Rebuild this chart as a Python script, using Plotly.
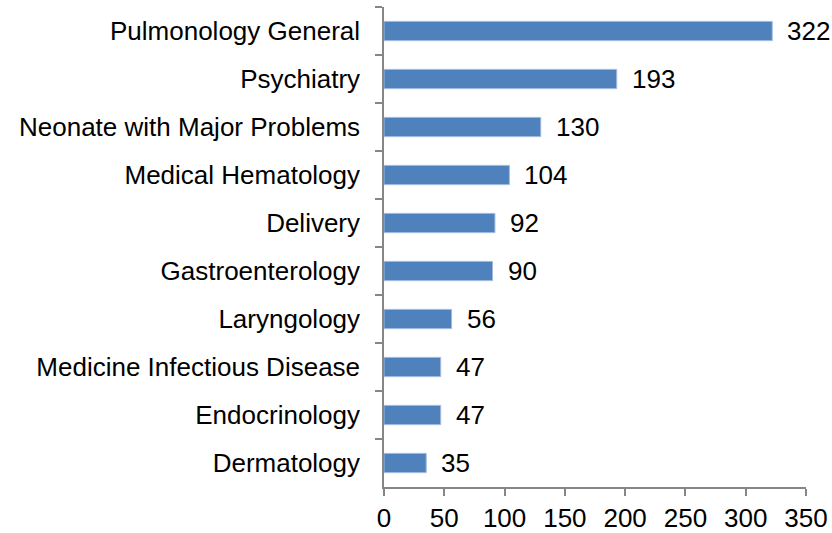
import plotly.graph_objects as go

categories = [
    "Pulmonology General",
    "Psychiatry",
    "Neonate with Major Problems",
    "Medical Hematology",
    "Delivery",
    "Gastroenterology",
    "Laryngology",
    "Medicine Infectious Disease",
    "Endocrinology",
    "Dermatology",
]
values = [322, 193, 130, 104, 92, 90, 56, 47, 47, 35]
x_ticks = [0, 50, 100, 150, 200, 250, 300, 350]

FONT = "Liberation Sans, Arial, sans-serif"
AXIS = "#868686"
FS = 26

fig = go.Figure()
fig.add_trace(go.Bar(
    x=values,
    y=categories,
    orientation="h",
    marker=dict(color="#4F81BD", line=dict(color="#9EB9DD", width=1)),
    hoverinfo="x+y",
))

for c, v in zip(categories, values):
    fig.add_annotation(
        x=v, y=c, text=str(v), showarrow=False,
        xanchor="left", yanchor="middle", xshift=13,
        font=dict(family=FONT, size=FS, color="#000000"),
    )

fig.update_layout(
    width=832, height=533,
    margin=dict(l=384, r=26, t=7, b=46, autoexpand=False),
    paper_bgcolor="white", plot_bgcolor="white",
    showlegend=False,
    bargap=0.6,
    font=dict(family=FONT, size=FS, color="#000000"),
)
fig.update_xaxes(
    range=[0, 350], tickvals=x_ticks, ticktext=[str(t) for t in x_ticks],
    showgrid=False, zeroline=False, automargin=False,
    showline=True, linecolor=AXIS, linewidth=1.5,
    ticks="outside", ticklen=7, tickcolor=AXIS, tickwidth=1.5,
    ticklabelstandoff=0,
    tickfont=dict(family=FONT, size=FS, color="#000000"),
)
fig.update_yaxes(
    categoryorder="array", categoryarray=categories, autorange="reversed",
    showgrid=False, zeroline=False, automargin=False,
    showline=True, linecolor=AXIS, linewidth=1.5,
    ticks="outside", ticklen=7, tickcolor=AXIS, tickwidth=1.5,
    tickson="boundaries",
    ticklabelstandoff=17,
    tickfont=dict(family=FONT, size=FS, color="#000000"),
)

fig.write_html(
    "out.html",
    config={"displayModeBar": False},
    post_script="document.body.style.margin='0';document.body.style.overflow='hidden';",
)
